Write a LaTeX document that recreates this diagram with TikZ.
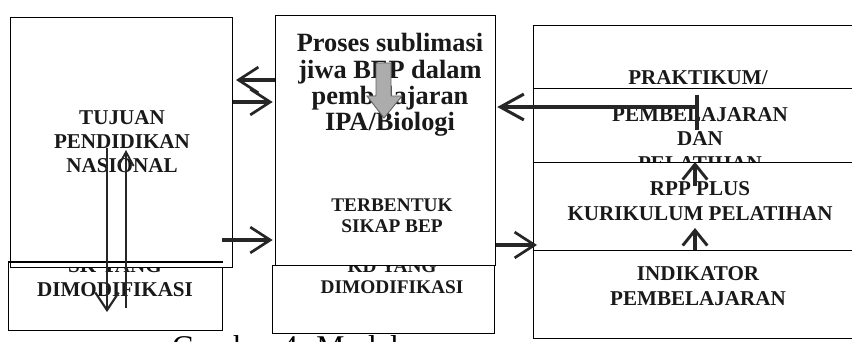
\documentclass[tikz,border=0pt]{standalone}
\usepackage{fontspec}
\setmainfont{Liberation Serif}
\usetikzlibrary{arrows.meta,calc}
\newcommand\fntL{\bfseries\fontsize{18}{20.4}\selectfont}
\newcommand\fntM{\bfseries\fontsize{22.5}{22.5}\selectfont}
\newcommand\fntS{\bfseries\fontsize{16.5}{18}\selectfont}
\newcommand\fntR{\bfseries\fontsize{18}{20.8}\selectfont}
\begin{document}
\begin{tikzpicture}[x=0.03cm,y=-0.03cm,
  box/.style={draw=black, line width=0.9pt, fill=white, inner sep=0pt, anchor=north west},
  lbl/.style={align=center, text=black!90, inner sep=0pt},
  bigarr/.style={draw=black!85, line width=3pt, -{Straight Barb[length=17pt,width=22pt,line width=2.3pt]}},
  vertarr/.style={draw=black!85, line width=2.4pt, -{Straight Barb[length=15pt,width=20pt,line width=1.8pt]}},
  thinarr/.style={draw=black!85, line width=2pt, -{Straight Barb[length=12pt,width=13pt,line width=1.6pt]}},
  uparr/.style={draw=black!85, line width=3.2pt, -{Straight Barb[length=13pt,width=21pt,line width=2.5pt]}},
]
\useasboundingbox (0,0) rectangle (852,342);
\clip (0,0) rectangle (852,342);
\fill[white] (0,0) rectangle (852,342);

% ---- left column
\node[box, minimum width=6.42cm, minimum height=2.04cm] (LB) at (8,262) {};
\node[lbl, font=\fntL] (LBt) at (115,278) {SK YANG\\DIMODIFIKASI};
\node[box, minimum width=6.66cm, minimum height=7.5cm] (L) at (10,17) {};
\draw[line width=0.9pt] (LB.north west) -- (LB.north east);
\node[lbl, font=\fntL] (Lt) at (122,142) {TUJUAN\\PENDIDIKAN\\NASIONAL};

% ---- middle column
\node[box, minimum width=6.66cm, minimum height=2.04cm] (MB) at (272,265) {};
\node[lbl, font=\fntS] (MBt) at (392,277) {KD YANG\\DIMODIFIKASI};
\node[box, minimum width=6.6cm, minimum height=7.5cm] (M) at (275,15) {};
\node[lbl, font=\fntM] (Mt) at (390,85) {Proses sublimasi\\jiwa BEP dalam\\pembelajaran\\IPA/Biologi};
\node[lbl, font=\fntS] (Mt2) at (392,216) {TERBENTUK\\SIKAP BEP};
\filldraw[fill=gray!65, draw=black!60, line width=0.8pt]
  (376,63) -- (391,63) -- (391,96) -- (402,96) -- (384,118) -- (367,96) -- (376,96) -- cycle;

% ---- right column
\node[box, minimum width=10.2cm, minimum height=1.89cm] (R1) at (533,25) {};
\node[lbl, font=\fntR] (R1t) at (698,78) {PRAKTIKUM/};
\node[box, minimum width=10.2cm, minimum height=2.22cm] (R2) at (533,88) {};
\node[lbl, font=\fntR] (R2t) at (700,139) {PEMBELAJARAN\\DAN\\PELATIHAN};
\node[box, minimum width=10.2cm, minimum height=2.64cm] (R3) at (533,162) {};
\node[lbl, font=\fntR] (R3t) at (700,201) {RPP PLUS\\KURIKULUM PELATIHAN};
\node[box, minimum width=10.2cm, minimum height=2.64cm] (R4) at (533,250) {};
\node[lbl, font=\fntR] (R4t) at (698,286) {INDIKATOR\\PEMBELAJARAN};

% ---- connectors
\coordinate (a1) at (236,80);
\draw[bigarr] (M.west |- a1) -- (a1);
\coordinate (a2) at (0,102);
\draw[bigarr, shorten >=2pt] (L.east |- a2) -- (M.west |- a2);
\coordinate (a3) at (222,240);
\draw[bigarr, line width=3.6pt, shorten >=2pt] (a3) -- (M.west |- a3);
\coordinate (a4) at (0,245);
\draw[bigarr] (M.east |- a4) -- ($(R4.west |- a4)+(4,0)$);
\coordinate (a5) at (697,107);
\draw[bigarr, line width=3.4pt, -{Straight Barb[length=20pt,width=22pt,line width=2.6pt]}, shorten >=1pt] (a5) -- (M.east |- a5);
\draw[draw=black!85, line width=3.2pt] ($(a5)+(0,-12)$) -- ($(a5)+(0,23)$);

\coordinate (d1s) at (107,148);
\coordinate (d1e) at (107,312);
\draw[vertarr] (d1s) -- (d1e);
\coordinate (u1s) at (126,308);
\coordinate (u1e) at (126,150);
\draw[thinarr] (u1s) -- (u1e);

\coordinate (r1e) at (695,228);
\draw[uparr] (R4.north -| r1e) -- (r1e);
\coordinate (r2s) at (695,186);
\draw[uparr] (r2s) -- (R3.north -| r2s);

% ---- caption (cut by the page edge, as in the source)
\node[anchor=base west, inner sep=0pt, font=\fontsize{27}{29}\selectfont] (cap) at (172,357) {Gambar 4. Model};
\end{tikzpicture}
\end{document}
